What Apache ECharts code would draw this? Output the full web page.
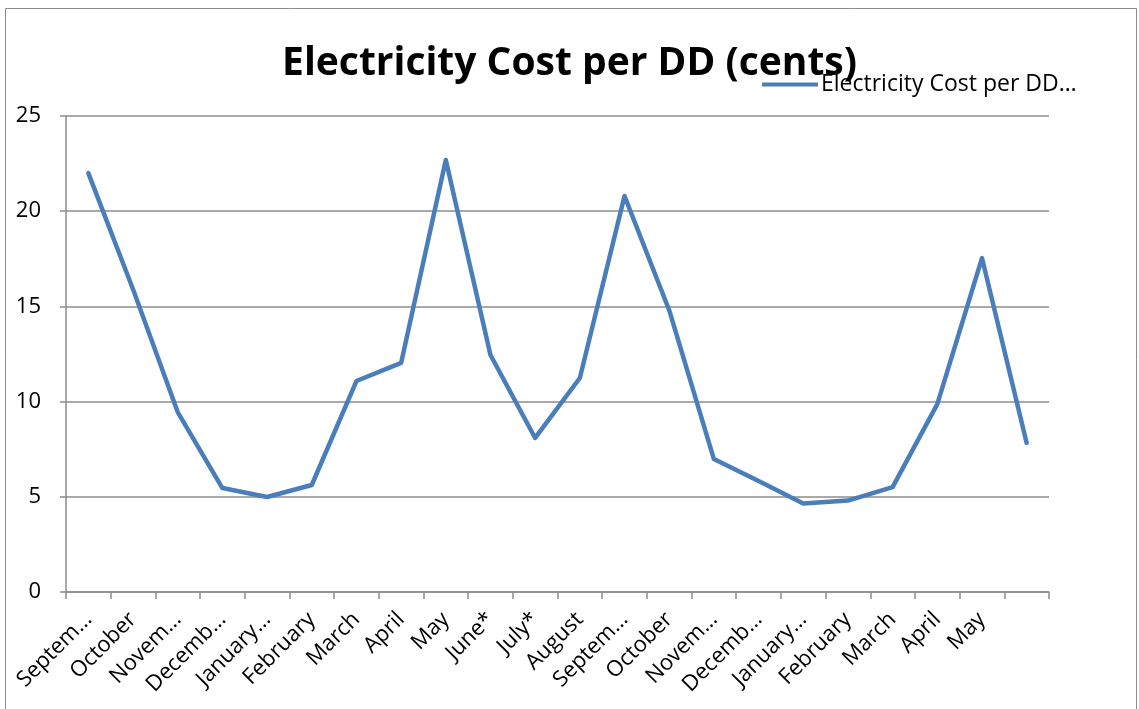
<!DOCTYPE html>
<html>
<head>
<meta charset="utf-8">
<script src="https://cdn.jsdelivr.net/npm/echarts@6/dist/echarts.min.js"></script>
<style>
html,body{margin:0;padding:0;background:#fff;}
#chart{width:1139px;height:709px;}
</style>
</head>
<body>
<div id="chart"></div>
<script>
const categories = ["Septem…","October","Novem…","Decemb…","January…","February","March","April","May","June*","July*","August","Septem…","October","Novem…","Decemb…","January…","February","March","April","May",""];
const costPerDD = [22.0,15.9,9.45,5.46,4.99,5.62,11.08,12.03,22.69,12.45,8.09,11.24,20.8,14.8,6.98,5.83,4.65,4.8,5.51,9.87,17.54,7.83];
const yTicks = {min:0, max:25, interval:5};
const seriesName = "Electricity Cost per DD (cents)";

const chart = echarts.init(document.getElementById('chart'));
const font = "'Open Sans', 'Noto Sans', sans-serif";
chart.setOption({
  animation:false,
  backgroundColor:'#fff',
  graphic:[{type:'rect',shape:{x:5.5,y:8.5,width:1131,height:720},style:{fill:'none',stroke:'#8c8c8c',lineWidth:1},silent:true}],
  title:{text:'Electricity Cost per DD (cents)',left:'center',top:39,
    textStyle:{fontFamily:font,fontSize:39,fontWeight:'bold',color:'#000'}},
  legend:{show:true,left:757,top:68,itemWidth:56,itemHeight:4,itemGap:0,
    formatter:function(){return 'Electricity Cost per DD…';},
    textStyle:{fontFamily:font,fontSize:23,color:'#000',padding:[0,0,0,-2]},
    icon:'rect'},
  grid:{left:66,right:90,top:116,bottom:117,containLabel:false,outerBoundsMode:'none'},
  xAxis:{type:'category',data:categories,boundaryGap:true,
    axisLine:{lineStyle:{color:'#8c8c8c',width:1.5}},
    axisTick:{show:true,length:7,lineStyle:{color:'#8c8c8c',width:1.5},alignWithLabel:false},
    axisLabel:{rotate:45,interval:0,fontFamily:font,fontSize:22,color:'#000',margin:24,
      hideOverlap:false}},
  yAxis:{type:'value',min:yTicks.min,max:yTicks.max,interval:yTicks.interval,
    axisLine:{show:true,lineStyle:{color:'#8c8c8c',width:1.5}},
    axisTick:{show:true,length:6,lineStyle:{color:'#8c8c8c',width:1.5}},
    splitLine:{lineStyle:{color:'#8c8c8c',width:1.5}},
    axisLabel:{fontFamily:font,fontSize:22,color:'#000',margin:25}},
  series:[{name:seriesName,type:'line',data:costPerDD,symbol:'none',
    lineStyle:{color:'#4a7ebb',width:4.5,cap:'round',join:'round'},itemStyle:{color:'#4a7ebb'}}]
});
</script>
</body>
</html>
